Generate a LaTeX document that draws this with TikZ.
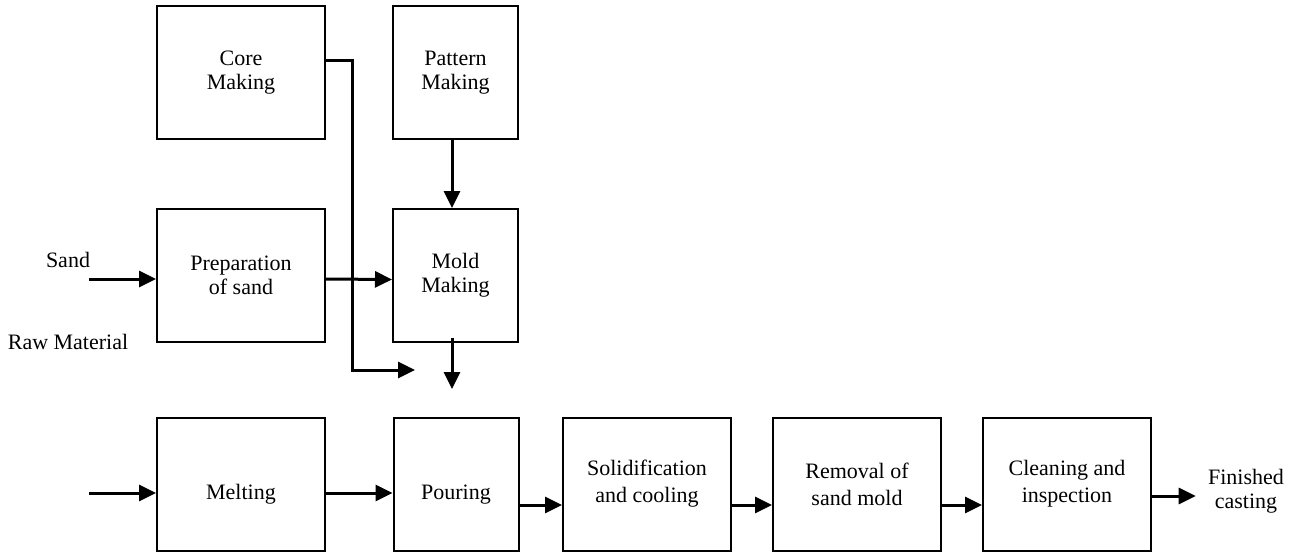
\documentclass[tikz,border=0pt]{standalone}
\usepackage{fontspec}
\setmainfont{Liberation Serif}
\usetikzlibrary{calc}
\usetikzlibrary{positioning}
\usetikzlibrary{arrows.meta}
\tikzset{
  stage/.style={draw, line width=1pt, align=center, inner sep=0pt,
    minimum height=66.5pt, minimum width=84pt, font=\fontsize{11}{12}\selectfont},
  narrow/.style={minimum width=62.5pt},
  loose/.style={font=\fontsize{11}{13.5}\selectfont},
  lowtext/.style={text height=17.5pt, text depth=2.5pt},
  flow/.style={line width=1.5pt, -{Triangle[length=8.5pt,width=8pt]}},
  tag/.style={align=center, font=\fontsize{11}{12}\selectfont}
}

\begin{document}
\begin{tikzpicture}[x=0.5pt, y=-0.5pt]
  \useasboundingbox (0,0) rectangle (1293,552);

  % upper part: cores, patterns and molds
  \node [stage] at (241,72.5) (core) {Core\\Making};
  \node [stage, narrow] at (455.5,72.5) (pattern) {Pattern\\Making};
  \node [stage] at (241,275) (prep) {Preparation\\of sand};
  \node [stage, narrow] at (455.5,275.5) (mold) {Mold\\Making};

  \node [tag] at (68,260) (sand) {Sand};
  \node [tag] at (68,342) (raw) {Raw Material};

  % casting line
  \node [stage, lowtext] at (241,484) (melting) {Melting};
  \node [stage, narrow, lowtext] at (456,484) (pouring) {Pouring};
  \node [stage, loose] at (647,484) (solid) {Solidification\\and cooling};
  \node [stage, loose] at (857,484) (removal) {Removal of\\sand mold};
  \node [stage, loose] at (1067,484) (cleaning) {Cleaning and\\inspection};
  \node [tag, inner sep=6pt] at (1246,491) (finished) {Finished\\casting};

  \coordinate (sandin) at (89,279);
  \coordinate (rawin) at (89,493);
  \coordinate (corein) at (415,370);
  \coordinate (pourin) at (452,389);

  \draw [flow] (sandin) -- ([yshift=-2pt]prep.west);
  \draw [flow] ([yshift=-2pt]prep.east) -- ([yshift=-2pt]mold.west);
  \draw [flow] ([xshift=-1.75pt]pattern.south) -- ([xshift=-1.75pt]mold.north);
  \draw [flow] ([yshift=6.25pt]core.east) -- ++(26,0) |- (corein);
  \draw [flow] ([xshift=-1.75pt,yshift=2.5pt]mold.south) -- (pourin);

  \draw [flow] (rawin) -- ([yshift=-4.5pt]melting.west);
  \draw [flow] ([yshift=-4.5pt]melting.east) -- ([yshift=-4.5pt]pouring.west);
  \foreach \a/\b in {pouring/solid, solid/removal, removal/cleaning} {
    \draw [flow] ([yshift=-10.5pt]\a.east) -- ([yshift=-10.5pt]\b.west);
  }
  \draw [flow] ([yshift=-6pt]cleaning.east) -- ([yshift=-2.5pt]finished.west);

\end{tikzpicture}
\end{document}
